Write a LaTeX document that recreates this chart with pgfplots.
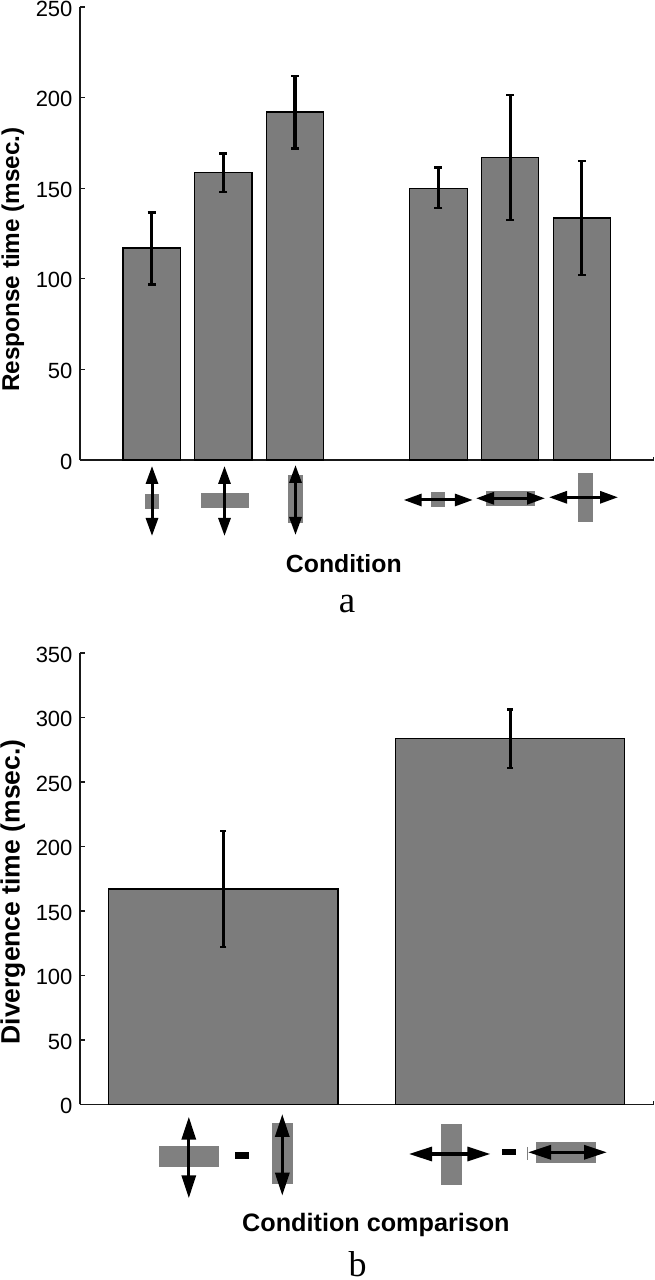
\documentclass[border=0pt]{standalone}
\usepackage{pgfplots}
\pgfplotsset{compat=1.18}
\usepackage{pgfplotstable}
\usepackage{fontspec}
\setmainfont{Liberation Sans}
\newfontfamily\serifletter{Liberation Serif}
\usetikzlibrary{arrows.meta}
\definecolor{bargray}{HTML}{7C7C7C}
\definecolor{picgray}{HTML}{808080}
\pgfplotstableread{
x y ep em
1 117 19.5 20
2 158.5 10.5 10.5
3 192 20 20
5 150 11.5 11
6 167 34.5 34.5
7 133.5 31.5 31.5
}\tableA
\pgfplotstableread{
x y ep em
1 167 45 45
2 284 22 23
}\tableB
\pgfplotsset{
  chart/.style={
    scale only axis, clip=false, anchor=south west,
    axis x line=bottom, axis y line=left, axis line style={-, line width=1.5pt, black!90},
    xtick=\empty,
    ymin=0,
    tick align=inside,
    major tick length=5pt,
    tick style={line width=1.1pt, black!90},
    /pgf/number format/assume math mode=true,
    yticklabel style={font=\fontsize{22}{24}\selectfont, xshift=-4pt, yshift=-1.5pt},
    ybar,
  },
  barstyle/.style 2 args={
    draw=black, line width=1.2pt, fill=bargray, bar shift=0pt,
    error bars/y dir=both, error bars/y explicit,
    error bars/error bar style={line width=#1, black},
    error bars/error mark options={black, line width=2.6pt, mark size=#2, rotate=90},
  },
}
\newcommand{\head}[2]{Triangle[length=#1,width=#2]}
\newcommand{\varrow}[2]{\draw[line width=3pt,{\head{18pt}{12pt}}-{\head{18pt}{12pt}}] #1 -- #2;}
\newcommand{\barrow}[2]{\draw[line width=3.2pt,{\head{23pt}{14pt}}-{\head{23pt}{14pt}}] #1 -- #2;}
\begin{document}
\begin{tikzpicture}
\useasboundingbox (0,0) rectangle (655pt,1280pt);
\begin{axis}[chart, at={(80pt,820pt)}, width=573.5pt, height=453pt,
  xmin=0, xmax=8, ymax=250, ytick={0,50,100,150,200,250}, bar width=0.8,
  ylabel={Response time (msec.)}, xlabel={Condition},
  every axis y label/.style={at={(axis description cs:-0.1170,0.4426)},rotate=90,anchor=center,font=\bfseries\fontsize{24.3}{28}\selectfont},
  every axis x label/.style={at={(axis description cs:0.460,-0.2494)},anchor=base,font=\bfseries\fontsize{24.8}{28}\selectfont},
]
\addplot[barstyle={3.2pt}{4pt}] table[x=x,y=y,y error plus=ep,y error minus=em] {\tableA};
\end{axis}
\begin{axis}[chart, at={(80pt,175.5pt)}, width=573.5pt, height=451.5pt,
  xmin=0.5, xmax=2.5, ymax=350, ytick={0,50,100,150,200,250,300,350}, bar width=0.8,
  ylabel={Divergence time (msec.)}, xlabel={Condition comparison},
  every axis y label/.style={at={(axis description cs:-0.1170,0.4707)},rotate=90,anchor=center,font=\bfseries\fontsize{26.5}{30}\selectfont},
  every axis x label/.style={at={(axis description cs:0.516,-0.2817)},anchor=base,font=\bfseries\fontsize{25.2}{28}\selectfont},
]
\addplot[barstyle={3pt}{3pt}] table[x=x,y=y,y error plus=ep,y error minus=em] {\tableB};
\end{axis}
\begin{scope}[x=1pt,y=-1pt,yshift=1280pt]
% end nubs of the x axes
\draw[line width=1pt,black!90] (653.5,460) -- (653.5,457);
\draw[line width=1pt,black!90] (653.5,1104.5) -- (653.5,1101.5);
% pictograms panel a
\fill[picgray] (145,494) rectangle (159,508.7);
\fill[picgray] (200.5,493) rectangle (249,507.7);
\fill[picgray] (288,474.7) rectangle (302.5,523);
\fill[picgray] (430.5,492.3) rectangle (445,507);
\fill[picgray] (486,491) rectangle (534.7,505.7);
\fill[picgray] (578,473) rectangle (593,521.7);
\varrow{(152,466)}{(152,536)}
\varrow{(224.5,466)}{(224.5,536)}
\varrow{(295.5,465)}{(295.5,535)}
\varrow{(403.7,500)}{(472.8,500)}
\varrow{(476,498.3)}{(545,498.3)}
\varrow{(549,497.3)}{(618,497.3)}
\node[anchor=base,inner sep=0pt,font=\serifletter\fontsize{37}{40}\selectfont] at (347,613) {a};
% pictograms panel b
\fill[picgray] (158.8,1146) rectangle (219,1167);
\fill[picgray] (272,1123.3) rectangle (293,1184);
\fill[picgray] (441,1124) rectangle (462,1184.7);
\fill[picgray] (535.8,1142.3) rectangle (596.3,1163);
\fill[black] (234.5,1152) rectangle (248.7,1158.7);
\fill[black] (501.8,1148.7) rectangle (516,1155.3);
\draw[line width=0.6pt,black!50] (527.3,1147) -- (527.3,1160);
\barrow{(188.8,1116.7)}{(188.8,1198.3)}
\barrow{(282.3,1114)}{(282.3,1195.7)}
\barrow{(409,1154)}{(490.4,1154)}
\barrow{(528,1152.3)}{(607,1152.3)}
\node[anchor=base,inner sep=0pt,font=\serifletter\fontsize{36}{38}\selectfont] at (357.7,1277) {b};
\end{scope}
\end{tikzpicture}
\end{document}
